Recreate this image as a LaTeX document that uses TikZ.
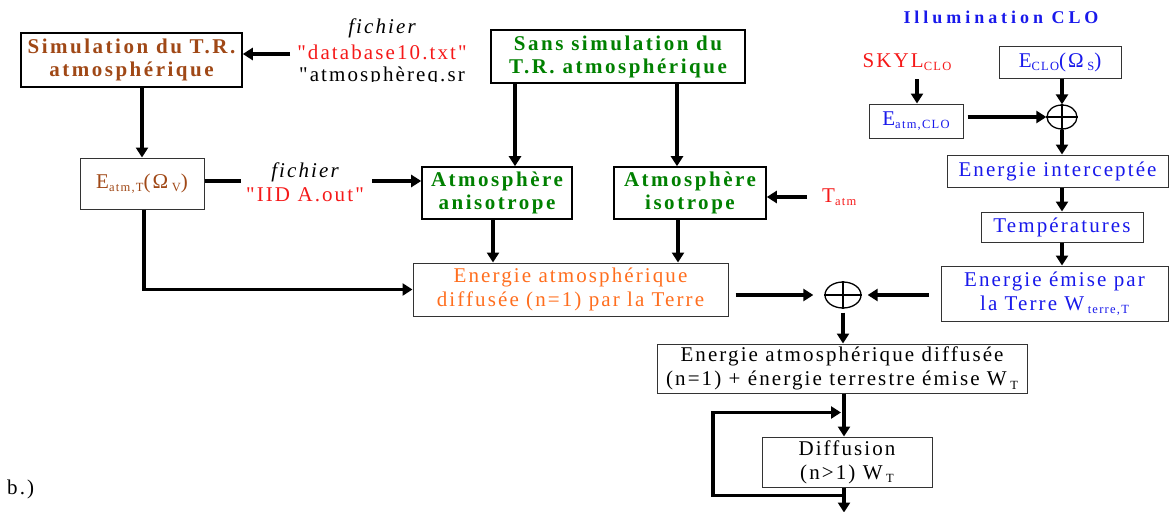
\documentclass[tikz,border=0pt]{standalone}
\usepackage{fontspec}
\setmainfont{Liberation Serif}[LetterSpace=10,Ligatures=TeXOff]
\newfontfamily\bls{Liberation Serif}[LetterSpace=12,Ligatures=TeXOff]
\newfontfamily\tls{Liberation Serif}[LetterSpace=22,Ligatures=TeXOff]
\usetikzlibrary{arrows.meta,shapes.geometric,calc}
\definecolor{cbrown}{RGB}{160,72,22}
\definecolor{cgreen}{RGB}{0,128,0}
\definecolor{cblue}{RGB}{25,25,235}
\definecolor{cred}{RGB}{245,25,25}
\definecolor{corange}{RGB}{255,110,30}
\newcommand\sbs[1]{\raisebox{-0.35ex}{\fontsize{12.5}{12.5}\selectfont #1}}
\begin{document}
\begin{tikzpicture}[x=1pt,y=-1pt,
  box/.style={draw=black!80, line width=1pt, fill=white, inner sep=0pt, align=center, font=\fontsize{21}{24}\selectfont},
  bbox/.style={box, draw=black, line width=1.6pt, font=\bls\bfseries\fontsize{21}{23}\selectfont},
  arr/.style={line width=3.2pt, -{Triangle[length=10pt,width=12pt]}},
  ln/.style={line width=3.2pt},
  plus/.style={ellipse, draw, line width=1.3pt, inner sep=0pt},
  lbl/.style={inner sep=0pt, align=center, font=\fontsize{21}{24}\selectfont}]
\path[use as bounding box] (0,0) rectangle (1169,511);

% left column
\node[bbox, text=cbrown, minimum width=221pt, minimum height=54pt] (sim) at (131.5,60) {Simulation du T.R.\\atmosphérique};
\node[box, text=cbrown, minimum width=124pt, minimum height=51pt] (eatm) at (142,183.5) {E\sbs{atm,T}(Ω\,\sbs{V})};
\node[lbl, font=\itshape\fontsize{21}{24}\selectfont] (fich1) at (382,28) {fichier};
\node[lbl, text=cred] (db) at (382,52) {"database10.txt"};
\begin{scope}
\clip (280,62) rectangle (480,81.5);
\node[lbl] (atq) at (382,76) {"atmosphèreq.sr};
\end{scope}
\node[lbl, font=\itshape\fontsize{21}{24}\selectfont] (fich2) at (305,172) {fichier};
\node[lbl, text=cred] (iida) at (305,195) {"IID A.out"};

% middle
\node[bbox, text=cgreen, minimum width=254pt, minimum height=53pt] (sans) at (618,56.5) {Sans simulation du\\T.R. atmosphérique};
\node[bbox, text=cgreen, minimum width=150pt, minimum height=52pt] (aniso) at (497,193) {Atmosphère\\anisotrope};
\node[bbox, text=cgreen, minimum width=152pt, minimum height=52pt] (iso) at (690,193) {Atmosphère\\isotrope};
\node[lbl, text=cred, anchor=west] (tatm) at (822,197) {T\sbs{atm}};
\node[box, text=corange, minimum width=315pt, minimum height=53pt] (orange) at (570.5,289.5) {Energie atmosphérique\\diffusée (n=1) par la Terre};

% right column
\node[lbl, text=cblue, font=\tls\bfseries\fontsize{18}{20}\selectfont] (title) at (1001,17) {Illumination CLO};
\node[lbl, text=cred] (skyl) at (907,62) {SKYL\sbs{CLO}};
\node[box, text=cblue, minimum width=122pt, minimum height=31pt] (eclo) at (1060,62.5) {E\sbs{CLO}(Ω\,\sbs{S})};
\node[box, text=cblue, minimum width=94pt, minimum height=34pt] (eatmclo) at (916,121) {E\sbs{atm,CLO}};
\node[plus, minimum width=30pt, minimum height=24pt] (op1) at (1062,117) {};
\draw[line width=1.3pt] (op1.north) -- (op1.south) (op1.west) -- (op1.east);
\node[box, text=cblue, minimum width=221pt, minimum height=32pt] (inter) at (1057.5,171) {Energie interceptée};
\node[box, text=cblue, minimum width=162pt, minimum height=30pt] (temp) at (1062,227) {Températures};
\node[box, text=cblue, minimum width=227pt, minimum height=55pt] (emise) at (1054.5,293.5) {Energie émise par\\la Terre W\,\sbs{terre,T}};

% bottom
\node[plus, minimum width=36pt, minimum height=26pt] (op2) at (843,295) {};
\draw[line width=1.3pt] (op2.north) -- (op2.south) (op2.west) -- (op2.east);
\node[box, minimum width=370pt, minimum height=49pt] (big) at (842,368.5) {Energie atmosphérique diffusée\\(n=1) + énergie terrestre émise W\,\sbs{T}};
\node[box, minimum width=170pt, minimum height=50pt] (diff) at (847,462) {Diffusion\\(n>1) W\,\sbs{T}};
\node[lbl, anchor=west] (bl) at (7,489) {b.)};

% connectors left/middle
\coordinate (f1) at (290,54);
\draw[arr] (f1) -- (sim.east |- f1);
\draw[arr] (eatm.north |- sim.south) -- (eatm.north);
\coordinate (f2a) at (241,181);
\coordinate (f2b) at (372,181);
\draw[ln] (eatm.east |- f2a) -- (f2a);
\draw[arr] (f2b) -- (aniso.west |- f2b);
\draw[arr] ([xshift=18pt]aniso.north |- sans.south) -- ([xshift=18pt]aniso.north);
\draw[arr] ([xshift=-13pt]iso.north |- sans.south) -- ([xshift=-13pt]iso.north);
\draw[arr] ([xshift=-4pt]aniso.south) -- ([xshift=-4pt]aniso.south |- orange.north);
\draw[arr] ([xshift=-12pt]iso.south) -- ([xshift=-12pt]iso.south |- orange.north);
\draw[arr] ($(tatm.west)+(-15,0)$) -- (iso.east |- tatm.west);
\draw[arr] ([xshift=2pt]eatm.south) -- ([xshift=2pt]eatm.south |- orange.west) -- (orange.west);
\draw[arr, shorten >=11pt] ([xshift=7pt]orange.east |- op2.west) -- (op2.west);
\draw[arr, shorten >=6pt] ([xshift=-12pt]emise.west |- op2.east) -- (op2.east);
\draw[arr] ([yshift=-4pt]op2.south) -- (op2.south |- big.north);

% right column connectors
\coordinate (sk) at (917,79);
\draw[arr] (sk) -- (sk |- eatmclo.north);
\draw[arr] ([xshift=4pt]eatmclo.east |- op1.west) -- (op1.west);
\draw[arr] (op1.north |- eclo.south) -- (op1.north);
\draw[arr] (op1.south) -- (op1.south |- inter.north);
\draw[arr] (temp.north |- inter.south) -- (temp.north);
\draw[arr] (temp.south) -- (temp.south |- emise.north);

% bottom loop
\coordinate (bb) at ([xshift=2pt]big.south);
\draw[arr] (bb) -- (bb |- diff.north);
\coordinate (dbot) at (bb |- diff.south);
\coordinate (dend) at ($(dbot)+(0,25)$);
\coordinate (lp1) at ($(dbot)+(0,8)$);
\draw[arr] (dbot) -- (dend);
\draw[arr] (lp1) -- ++(-131,0) -- ++(0,-83) -- ++(128,0);
\end{tikzpicture}
\end{document}
